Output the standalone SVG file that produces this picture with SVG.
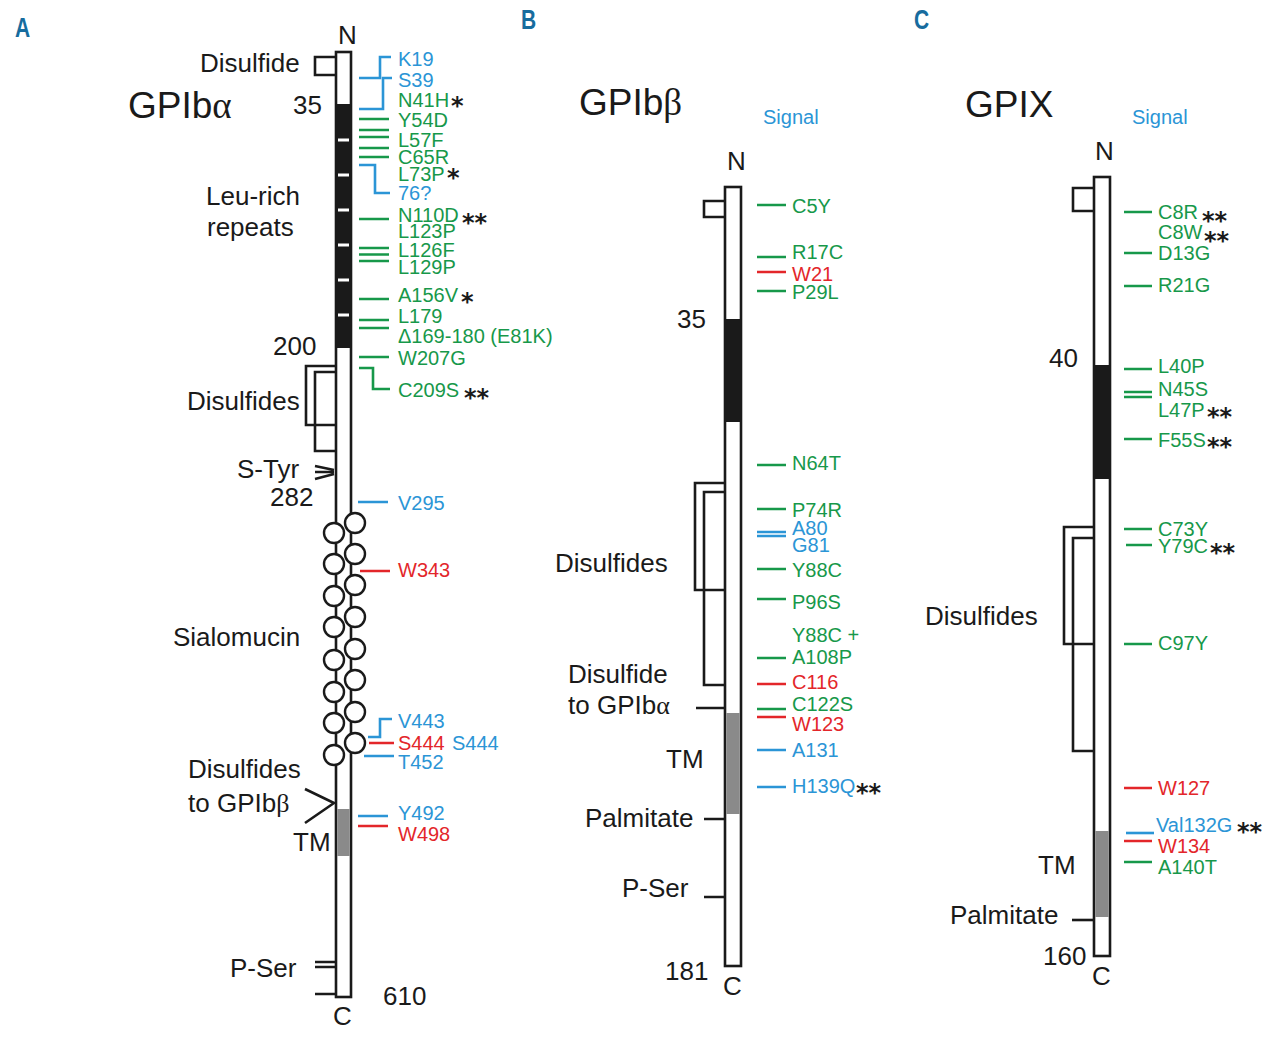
<svg xmlns="http://www.w3.org/2000/svg" width="1280" height="1041" viewBox="0 0 1280 1041">
<style>
text{font-family:"Liberation Sans",Arial,sans-serif;}
.lbl{font-size:26px;fill:#1a1a1a;}
.ttl{font-size:37px;fill:#1a1a1a;}
.gk{font-family:"Liberation Serif","Times New Roman",serif;}
.m{font-size:20px;}
.tg{fill:#17984a;}
.tb{fill:#2b95d6;}
.tr{fill:#e3262a;}
.st text{font-family:"DejaVu Sans",sans-serif;font-size:24px;font-weight:bold;fill:#1a1a1a;}
.pl{font-size:28px;font-weight:bold;fill:#176c9e;}
.bar{fill:#fff;stroke:#1a1a1a;stroke-width:2.6;}
.blk{fill:#1a1a1a;}
.gry{fill:#8a8a8a;}
.k{fill:none;stroke:#1a1a1a;stroke-width:2.6;}
.cir{fill:#fff;stroke:#1a1a1a;stroke-width:2.4;}
.g{stroke:#17984a;stroke-width:2.6;fill:none;}
.b{stroke:#2b95d6;stroke-width:2.6;fill:none;}
.r{stroke:#e3262a;stroke-width:2.6;fill:none;}
.tick{stroke:#fff;stroke-width:3;}
</style>
<rect width="1280" height="1041" fill="#fff"/>

<g id="panel-letters">
<text class="pl" transform="translate(15,37) scale(0.75,1)">A</text>
<text class="pl" transform="translate(521,29) scale(0.75,1)">B</text>
<text class="pl" transform="translate(914,29) scale(0.75,1)">C</text>
</g>

<!-- Panel A -->
<g id="gpiba">
<text class="ttl" x="128" y="118">GPIb<tspan class="gk">α</tspan></text>
<rect class="bar" x="336" y="52" width="15" height="945"/>
<rect class="blk" x="336" y="104" width="15" height="244"/>
<rect class="gry" x="337.3" y="809" width="12.4" height="47"/>
<g class="tick">
<line x1="338" y1="140" x2="349" y2="140"/>
<line x1="338" y1="175" x2="349" y2="175"/>
<line x1="338" y1="210" x2="349" y2="210"/>
<line x1="338" y1="245" x2="349" y2="245"/>
<line x1="338" y1="280" x2="349" y2="280"/>
<line x1="338" y1="315" x2="349" y2="315"/>
</g>
<path class="k" d="M335,57 H315 V75 H335"/>
<path class="k" d="M335,366 H306 V425 H335"/>
<path class="k" d="M335,372 H315 V451 H335"/>
<path class="k" d="M315,466 L334,470 M315,472 L334,472 M315,479 L334,474"/>
<path class="k" d="M305,789 L334,803 L305,823"/>
<path class="k" d="M315,962 H335 M315,967 H335 M315,994 H335"/>
<g id="sialomucin">
<circle class="cir" cx="355" cy="523" r="10"/>
<circle class="cir" cx="355" cy="554" r="10"/>
<circle class="cir" cx="355" cy="585" r="10"/>
<circle class="cir" cx="355" cy="617" r="10"/>
<circle class="cir" cx="355" cy="649" r="10"/>
<circle class="cir" cx="355" cy="680" r="10"/>
<circle class="cir" cx="355" cy="712" r="10"/>
<circle class="cir" cx="355" cy="743" r="10"/>
<circle class="cir" cx="334" cy="533" r="10"/>
<circle class="cir" cx="334" cy="564" r="10"/>
<circle class="cir" cx="334" cy="596" r="10"/>
<circle class="cir" cx="334" cy="627" r="10"/>
<circle class="cir" cx="334" cy="660" r="10"/>
<circle class="cir" cx="334" cy="692" r="10"/>
<circle class="cir" cx="334" cy="723" r="10"/>
<circle class="cir" cx="334" cy="755" r="10"/>
</g>
<text class="lbl" x="338" y="44">N</text>
<text class="lbl" x="200" y="72">Disulfide</text>
<text class="lbl" x="293" y="114">35</text>
<text class="lbl" x="206" y="205">Leu-rich</text>
<text class="lbl" x="207" y="236">repeats</text>
<text class="lbl" x="273" y="355">200</text>
<text class="lbl" x="187" y="410">Disulfides</text>
<text class="lbl" x="237" y="478">S-Tyr</text>
<text class="lbl" x="270" y="506">282</text>
<text class="lbl" x="173" y="646">Sialomucin</text>
<text class="lbl" x="188" y="778">Disulfides</text>
<text class="lbl" x="188" y="812">to GPIb<tspan class="gk">β</tspan></text>
<text class="lbl" x="293" y="851">TM</text>
<text class="lbl" x="230" y="977">P-Ser</text>
<text class="lbl" x="383" y="1005">610</text>
<text class="lbl" x="333" y="1025">C</text>
<g class="m">
<text class="tb" x="398" y="66">K19</text>
<text class="tb" x="398" y="87">S39</text>
<text class="tg" x="398" y="107">N41H</text>
<text class="tg" x="398" y="127">Y54D</text>
<text class="tg" x="398" y="147">L57F</text>
<text class="tg" x="398" y="164">C65R</text>
<text class="tg" x="398" y="181">L73P</text>
<text class="tb" x="398" y="200">76?</text>
<text class="tg" x="398" y="222">N110D</text>
<text class="tg" x="398" y="238">L123P</text>
<text class="tg" x="398" y="257">L126F</text>
<text class="tg" x="398" y="274">L129P</text>
<text class="tg" x="398" y="302">A156V</text>
<text class="tg" x="398" y="323">L179</text>
<text class="tg" x="398" y="343">Δ169-180 (E81K)</text>
<text class="tg" x="398" y="365">W207G</text>
<text class="tg" x="398" y="397">C209S</text>
<text class="tb" x="398" y="510">V295</text>
<text class="tr" x="398" y="577">W343</text>
<text class="tb" x="398" y="728">V443</text>
<text class="tr" x="398" y="750">S444</text>
<text class="tb" x="452" y="750">S444</text>
<text class="tb" x="398" y="769">T452</text>
<text class="tb" x="398" y="820">Y492</text>
<text class="tr" x="398" y="841">W498</text>
</g>
<g class="st">
<text x="451" y="114">*</text>
<text x="447" y="186">*</text>
<text x="462" y="231">**</text>
<text x="461" y="310">*</text>
<text x="464" y="406">**</text>
</g>
</g>

<!-- Panel B -->
<g id="gpibb">
<text class="ttl" x="579" y="115">GPIb<tspan class="gk">β</tspan></text>
<text class="m tb" x="763" y="124">Signal</text>
<rect class="bar" x="725" y="187" width="16" height="779"/>
<rect class="blk" x="725" y="319" width="16" height="103"/>
<rect class="gry" x="726.3" y="713" width="13.4" height="101"/>
<path class="k" d="M724,201 H704 V217 H724"/>
<path class="k" d="M724,483 H695 V590 H724"/>
<path class="k" d="M724,492 H704 V685 H724"/>
<path class="k" d="M696,708 H724 M704,819 H724 M704,897 H724"/>
<text class="lbl" x="727" y="170">N</text>
<text class="lbl" x="677" y="328">35</text>
<text class="lbl" x="555" y="572">Disulfides</text>
<text class="lbl" x="568" y="683">Disulfide</text>
<text class="lbl" x="568" y="714">to GPIb<tspan class="gk">α</tspan></text>
<text class="lbl" x="666" y="768">TM</text>
<text class="lbl" x="585" y="827">Palmitate</text>
<text class="lbl" x="622" y="897">P-Ser</text>
<text class="lbl" x="665" y="980">181</text>
<text class="lbl" x="723" y="995">C</text>
<g class="m">
<text class="tg" x="792" y="213">C5Y</text>
<text class="tg" x="792" y="259">R17C</text>
<text class="tr" x="792" y="281">W21</text>
<text class="tg" x="792" y="299">P29L</text>
<text class="tg" x="792" y="470">N64T</text>
<text class="tg" x="792" y="517">P74R</text>
<text class="tb" x="792" y="535">A80</text>
<text class="tb" x="792" y="552">G81</text>
<text class="tg" x="792" y="577">Y88C</text>
<text class="tg" x="792" y="609">P96S</text>
<text class="tg" x="792" y="642">Y88C +</text>
<text class="tg" x="792" y="664">A108P</text>
<text class="tr" x="792" y="689">C116</text>
<text class="tg" x="792" y="711">C122S</text>
<text class="tr" x="792" y="731">W123</text>
<text class="tb" x="792" y="757">A131</text>
<text class="tb" x="792" y="793">H139Q</text>
</g>
<g class="st"><text x="856" y="801">**</text></g>
</g>

<!-- Panel C -->
<g id="gpix">
<text class="ttl" x="965" y="117">GPIX</text>
<text class="m tb" x="1132" y="124">Signal</text>
<rect class="bar" x="1094" y="177" width="16" height="779"/>
<rect class="blk" x="1094" y="365" width="16" height="114"/>
<rect class="gry" x="1095.3" y="831" width="13.4" height="86"/>
<path class="k" d="M1093,188 H1073 V211 H1093"/>
<path class="k" d="M1093,527 H1064 V644 H1093"/>
<path class="k" d="M1093,538 H1073 V751 H1093"/>
<path class="k" d="M1072,920 H1093"/>
<text class="lbl" x="1095" y="160">N</text>
<text class="lbl" x="1049" y="367">40</text>
<text class="lbl" x="925" y="625">Disulfides</text>
<text class="lbl" x="1038" y="874">TM</text>
<text class="lbl" x="950" y="924">Palmitate</text>
<text class="lbl" x="1043" y="965">160</text>
<text class="lbl" x="1092" y="985">C</text>
<g class="m">
<text class="tg" x="1158" y="219">C8R</text>
<text class="tg" x="1158" y="239">C8W</text>
<text class="tg" x="1158" y="260">D13G</text>
<text class="tg" x="1158" y="292">R21G</text>
<text class="tg" x="1158" y="373">L40P</text>
<text class="tg" x="1158" y="396">N45S</text>
<text class="tg" x="1158" y="417">L47P</text>
<text class="tg" x="1158" y="447">F55S</text>
<text class="tg" x="1158" y="536">C73Y</text>
<text class="tg" x="1158" y="553">Y79C</text>
<text class="tg" x="1158" y="650">C97Y</text>
<text class="tr" x="1158" y="795">W127</text>
<text class="tb" x="1156" y="832">Val132G</text>
<text class="tr" x="1158" y="853">W134</text>
<text class="tg" x="1158" y="874">A140T</text>
</g>
<g class="st">
<text x="1202" y="229">**</text>
<text x="1204" y="249">**</text>
<text x="1207" y="425">**</text>
<text x="1207" y="455">**</text>
<text x="1210" y="561">**</text>
<text x="1237" y="840">**</text>
</g>
</g>

<g id="connectors">
<path class="b" d="M359,78 H380 V57 H391"/>
<path class="b" d="M359,109 H383 V78 H392"/>
<path class="b" d="M359,165 H375 V193 H390"/>
<path class="g" d="M359,368 H373 V389 H390"/>
<path class="g" d="M359,119 H389 M359,130 H389 M359,137 H389 M359,148 H389 M359,157 H389 M359,219 H389 M359,248 H389 M359,254.5 H389 M359,261 H389 M359,299 H389 M359,320 H389 M359,328 H389 M359,357 H389"/>
<path class="b" d="M358,502 H388 M364,756 H394 M358,816 H388"/>
<path class="b" d="M368,737 H380 V719 H392"/>
<path class="r" d="M360,571 H390 M369,743 H394 M358,826 H388"/>
<path class="g" d="M757,205 H786 M757,257 H786 M757,291 H786 M757,465 H786 M757,509 H786 M757,569 H786 M757,599 H786 M757,658 H786 M757,709 H786"/>
<path class="r" d="M757,272 H786 M757,684 H786 M757,717 H786"/>
<path class="b" d="M757,532 H786 M757,536 H786 M757,750 H786 M757,787 H786"/>
<path class="g" d="M1124,212 H1152 M1124,253 H1152 M1124,286 H1152 M1124,369 H1152 M1124,392 H1152 M1124,397 H1152 M1124,439 H1152 M1124,529 H1152 M1126,545 H1152 M1124,644 H1152 M1124,862 H1152"/>
<path class="r" d="M1124,788 H1152 M1124,841 H1152"/>
<path class="b" d="M1126,833 H1154"/>
</g>
</svg>
